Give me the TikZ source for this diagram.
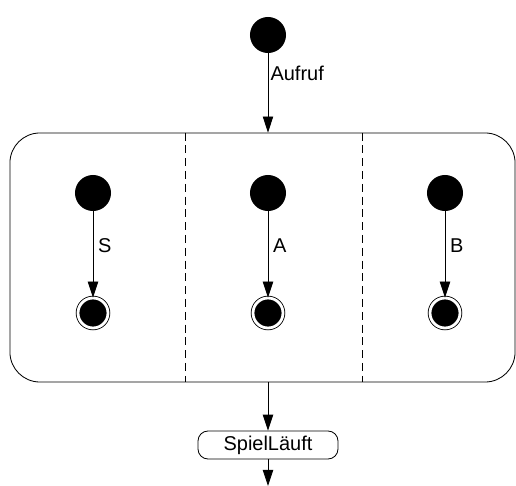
\documentclass[tikz,border=0pt]{standalone}
\usepackage{fontspec}
\setmainfont{Liberation Sans}
\usetikzlibrary{arrows.meta}

\begin{document}
\begin{tikzpicture}[x=0.025cm, y=-0.025cm, line width=0.6pt,
  >={Triangle[length=0.4cm, width=0.26cm]},
  font=\fontsize{14.2pt}{17pt}\selectfont,
  start/.style={circle, fill=black, minimum size=0.9cm, inner sep=0pt},
  final/.style={circle, fill=black, draw=black, double=white, double distance=0.07cm, minimum size=0.75cm, inner sep=0pt},
  region/.style={dash pattern=on 0.2cm off 0.12cm}]
	\useasboundingbox (0,0) rectangle (516,486);

	% Define nodes
	\node (init) at (268,35) [start] {};
	\node (comp) at (262.5,257.5) [draw, rounded corners=0.75cm, minimum width=12.625cm, minimum height=6.225cm] {};

	\node (s0) at (93,193) [start] {};
	\node (s1) at (93,313) [final] {};
	\node (a0) at (268,193) [start] {};
	\node (a1) at (268,313) [final] {};
	\node (b0) at (445,193) [start] {};
	\node (b1) at (445,313) [final] {};

	\node (run) at (268,445) [draw, rounded corners=0.25cm, minimum width=3.5cm, minimum height=0.6cm] {SpielLäuft};
	\coordinate (exit) at (268,486);

	% Region separators
	\coordinate (sep1) at (185,0);
	\coordinate (sep2) at (362,0);
	\draw[region] (sep1 |- comp.north) -- (sep1 |- comp.south);
	\draw[region] (sep2 |- comp.north) -- (sep2 |- comp.south);

	% Draw edges
	\draw[->] (init) -- node[pos=0.25, right, inner sep=1.5pt] {Aufruf} (init |- comp.north);
	\draw[->] (s0) -- node[pos=0.4, right] {S} (s1);
	\draw[->] (a0) -- node[pos=0.4, right] {A} (a1);
	\draw[->] (b0) -- node[pos=0.4, right] {B} (b1);
	\draw[->] (run |- comp.south) -- (run);
	\draw[->] (run) -- (exit);
\end{tikzpicture}
\end{document}
